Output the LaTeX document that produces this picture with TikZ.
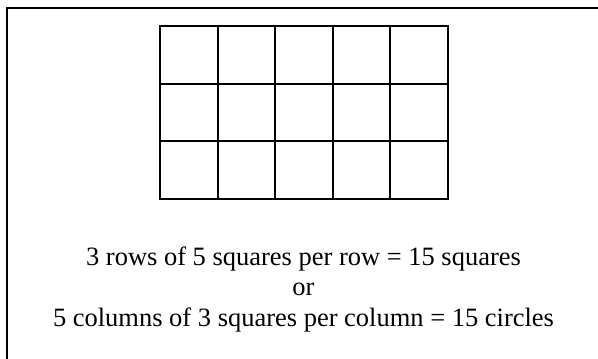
\documentclass[tikz,border=0pt]{standalone}
\usepackage{fontspec}
\setmainfont{Liberation Serif}
\usetikzlibrary{positioning}

\begin{document}
\begin{tikzpicture}[x=0.03cm, y=-0.03cm,
  frame/.style={line width=0.06cm, black},
  cell/.style={line width=0.06cm, black},
  txt/.style={anchor=base, inner sep=0pt, font=\fontsize{22.6}{26}\selectfont}]
  \useasboundingbox (0,0) rectangle (598,358);
  % clipped outer frame: only top and left edges show
  \draw[frame] (600,7.5) -| (6.7,360);
  % 5 x 3 grid of squares
  \foreach \i in {0,...,4}
    \foreach \j in {0,...,2}
      \draw[cell] (160+57.5*\i, 26+57.67*\j) rectangle ++(57.5,57.67);
  \node[txt] (rows) at (303.5,265) {3 rows of 5 squares per row = 15 squares};
  \node[txt] (or) at (303.5,295.5) {or};
  \node[txt] (cols) at (303.5,326) {5 columns of 3 squares per column = 15 circles};
\end{tikzpicture}
\end{document}
